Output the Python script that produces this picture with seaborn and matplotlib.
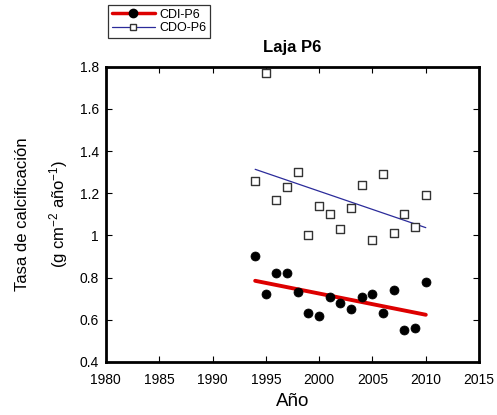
import matplotlib
matplotlib.use("Agg")
import matplotlib.pyplot as plt
import seaborn as sns
import numpy as np
import pandas as pd
from matplotlib.lines import Line2D

sns.set_style("ticks")
plt.rcParams['font.family'] = ['Liberation Sans', 'DejaVu Sans']
plt.rcParams['text.color'] = 'black'
plt.rcParams['axes.labelcolor'] = 'black'
plt.rcParams['mathtext.fontset'] = 'custom'
plt.rcParams['mathtext.rm'] = 'Liberation Sans'
plt.rcParams['mathtext.it'] = 'Liberation Sans'
plt.rcParams['mathtext.default'] = 'regular'

years = [1994, 1995, 1996, 1997, 1998, 1999, 2000, 2001, 2002, 2003,
         2004, 2005, 2006, 2007, 2008, 2009, 2010]
cdi = [0.90, 0.72, 0.82, 0.82, 0.73, 0.63, 0.62, 0.71, 0.68, 0.65,
       0.71, 0.72, 0.63, 0.74, 0.55, 0.56, 0.78]
cdo = [1.26, 1.77, 1.17, 1.23, 1.30, 1.00, 1.14, 1.10, 1.03, 1.13,
       1.24, 0.98, 1.29, 1.01, 1.10, 1.04, 1.19]
x_ticks = [1980, 1985, 1990, 1995, 2000, 2005, 2010, 2015]
y_ticks = [0.4, 0.6, 0.8, 1.0, 1.2, 1.4, 1.6, 1.8]

df = pd.DataFrame({"year": years, "CDI": cdi, "CDO": cdo})

fig = plt.figure(figsize=(4.97, 4.15), dpi=100)
ax = fig.add_axes([0.213, 0.128, 0.751, 0.711])

sns.regplot(data=df, x="year", y="CDO", ax=ax, ci=None, scatter=False,
            line_kws=dict(color="#2b2b9a", lw=0.9))
sns.regplot(data=df, x="year", y="CDI", ax=ax, ci=None, scatter=False,
            line_kws=dict(color="#dd0000", lw=2.8))
sns.scatterplot(data=df, x="year", y="CDO", ax=ax, marker="s", s=36,
                facecolor="white", edgecolor="#333333", linewidth=1.0, zorder=3)
sns.scatterplot(data=df, x="year", y="CDI", ax=ax, marker="o", s=42,
                color="black", edgecolor="black", zorder=3)

ax.set_xlim(1980, 2015)
ax.set_ylim(0.4, 1.8)
ax.set_xticks(x_ticks)
ax.set_yticks(y_ticks)
ax.set_yticklabels([f"{v:g}" for v in y_ticks])
ax.tick_params(direction="in", top=True, right=True, length=4, width=0.8,
               labelsize=10, colors="black")
ax.tick_params(axis="x", pad=8)
ax.tick_params(axis="y", pad=5)
for s in ax.spines.values():
    s.set_linewidth(2)
    s.set_color("black")

ax.set_xlabel("Año", fontsize=13.5, labelpad=4)
ax.set_ylabel("Tasa de calcificación\n(g cm$^{-2}$ año$^{-1}$)", fontsize=12,
              labelpad=7, linespacing=2.0)
ax.set_title("Laja P6", fontsize=12, fontweight="bold", pad=11)

handles = [
    Line2D([0], [0], color="#dd0000", lw=2.5, marker="o", markersize=6,
           markerfacecolor="black", markeredgecolor="black"),
    Line2D([0], [0], color="#2b2b9a", lw=0.9, marker="s", markersize=5,
           markerfacecolor="white", markeredgecolor="#333333"),
]
leg = fig.legend(handles, ["CDI-P6", "CDO-P6"], loc="upper left",
                 bbox_to_anchor=(0.217, 0.988), fontsize=9, frameon=True,
                 fancybox=False, edgecolor="black", handlelength=3.5,
                 borderpad=0.3, labelspacing=0.1, handletextpad=0.3,
                 borderaxespad=0)
leg.get_frame().set_linewidth(0.9)

fig.savefig("out.png", dpi=100)
